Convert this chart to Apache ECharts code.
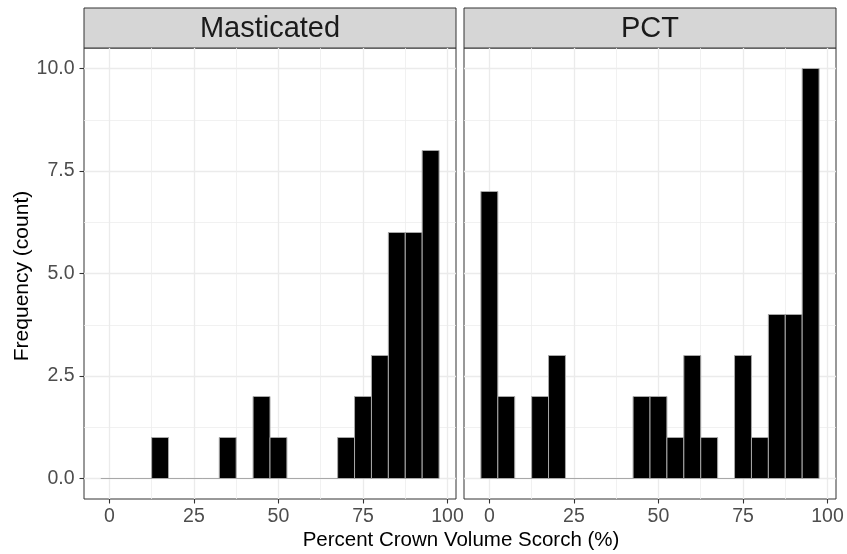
<!DOCTYPE html>
<html><head><meta charset="utf-8">
<script src="https://cdn.jsdelivr.net/npm/echarts@6/dist/echarts.min.js"></script>
<style>html,body{margin:0;padding:0;background:#fff}#c{width:847px;height:554px}</style>
</head><body><div id="c"></div>
<script>
// ---- data ----
const panels = ['Masticated', 'PCT'];
const binCenters = [0, 5, 10, 15, 20, 25, 30, 35, 40, 45, 50, 55, 60, 65, 70, 75, 80, 85, 90, 95];
const binWidth = 5;
const masticatedCounts = [0, 0, 0, 1, 0, 0, 0, 1, 0, 2, 1, 0, 0, 0, 1, 2, 3, 6, 6, 8];
const pctCounts = [7, 2, 0, 2, 3, 0, 0, 0, 0, 2, 2, 1, 3, 1, 0, 3, 1, 4, 4, 10];
const xMajorTicks = [0, 25, 50, 75, 100];
const xMinorTicks = [12.5, 37.5, 62.5, 87.5];
const yMajorTicks = [0, 2.5, 5, 7.5, 10];
const yMinorTicks = [1.25, 3.75, 6.25, 8.75];
const xTitle = 'Percent Crown Volume Scorch (%)';
const yTitle = 'Frequency (count)';

// ---- layout ----
const FONT = '"Liberation Sans", Arial, sans-serif';
const panelTop = 48, panelH = 451, panelW = 372;
const panelLefts = [84, 464];
const stripTop = 8, stripH = 40;
const xRange = [-7.5, 102.5], yRange = [-0.5, 10.5];

const countsByPanel = [masticatedCounts, pctCounts];

const grids = panelLefts.map(l => ({
  left: l, top: panelTop, width: panelW, height: panelH,
  show: true, borderColor: '#333333', borderWidth: 1, backgroundColor: '#ffffff',
  containLabel: false
}));

const xAxes = [], yAxes = [];
panelLefts.forEach((l, g) => {
  xAxes.push({
    type: 'value', gridIndex: g, min: xRange[0], max: xRange[1], position: 'bottom',
    axisLine: { show: false, onZero: false },
    axisTick: { show: true, length: 4.5, customValues: xMajorTicks, lineStyle: { color: '#333333', width: 1.1 } },
    axisLabel: { show: true, customValues: xMajorTicks, color: '#4d4d4d', fontSize: 19.5, fontFamily: FONT, margin: 8 },
    splitLine: { show: true, lineStyle: { color: '#ebebeb', width: 1.3 } }
  });
  xAxes.push({
    type: 'value', gridIndex: g, min: xRange[0], max: xRange[1], position: 'top',
    axisLine: { show: false, onZero: false },
    axisTick: { show: false, customValues: xMinorTicks },
    axisLabel: { show: false, customValues: xMinorTicks },
    splitLine: { show: true, lineStyle: { color: '#ededed', width: 0.8 } }
  });
  yAxes.push({
    type: 'value', gridIndex: g, min: yRange[0], max: yRange[1], position: 'left',
    axisLine: { show: false, onZero: false },
    axisTick: { show: g === 0, length: 4.5, customValues: yMajorTicks, lineStyle: { color: '#333333', width: 1.1 } },
    axisLabel: { show: g === 0, customValues: yMajorTicks, color: '#4d4d4d', fontSize: 19.5, fontFamily: FONT, margin: 9.5,
      formatter: v => Number(v).toFixed(1) },
    splitLine: { show: true, lineStyle: { color: '#ebebeb', width: 1.3 } }
  });
  yAxes.push({
    type: 'value', gridIndex: g, min: yRange[0], max: yRange[1], position: 'right',
    axisLine: { show: false, onZero: false },
    axisTick: { show: false, customValues: yMinorTicks },
    axisLabel: { show: false, customValues: yMinorTicks },
    splitLine: { show: true, lineStyle: { color: '#ededed', width: 0.8 } }
  });
});

const series = panels.map((name, g) => ({
  type: 'custom', name: name,
  xAxisIndex: g * 2, yAxisIndex: g * 2,
  data: binCenters.map((c, i) => [c, countsByPanel[g][i]]),
  encode: { x: 0, y: 1 },
  renderItem: (params, api) => {
    const x = api.value(0), y = api.value(1);
    const p0 = api.coord([x - binWidth / 2, y]);
    const p1 = api.coord([x + binWidth / 2, 0]);
    return {
      type: 'rect',
      shape: { x: p0[0], y: p0[1], width: p1[0] - p0[0], height: Math.max(p1[1] - p0[1], 0.001) },
      style: { fill: '#000000', stroke: '#a8a8a8', lineWidth: 1 }
    };
  }
}));

const graphics = [];
panels.forEach((name, g) => {
  graphics.push({
    type: 'rect', silent: true,
    shape: { x: panelLefts[g], y: stripTop, width: panelW, height: stripH },
    style: { fill: '#d6d6d6', stroke: '#333333', lineWidth: 1 }
  });
  graphics.push({
    type: 'text', silent: true,
    x: panelLefts[g] + panelW / 2, y: stripTop + stripH / 2 + 1,
    style: { text: name, fontSize: 29, fontFamily: FONT, fill: '#1a1a1a', align: 'center', verticalAlign: 'middle' }
  });
});
graphics.push({
  type: 'text', silent: true, x: 461, y: 540,
  style: { text: xTitle, fontSize: 20.5, fontFamily: FONT, fill: '#000000', align: 'center', verticalAlign: 'middle' }
});
graphics.push({
  type: 'text', silent: true, x: 22, y: 276, rotation: Math.PI / 2,
  style: { text: yTitle, fontSize: 21, fontFamily: FONT, fill: '#000000', align: 'center', verticalAlign: 'middle' }
});

const chart = echarts.init(document.getElementById('c'), null, { renderer: 'canvas' });
chart.setOption({
  animation: false,
  backgroundColor: '#ffffff',
  grid: grids,
  xAxis: xAxes,
  yAxis: yAxes,
  series: series,
  graphic: graphics
});
</script>
</body></html>
